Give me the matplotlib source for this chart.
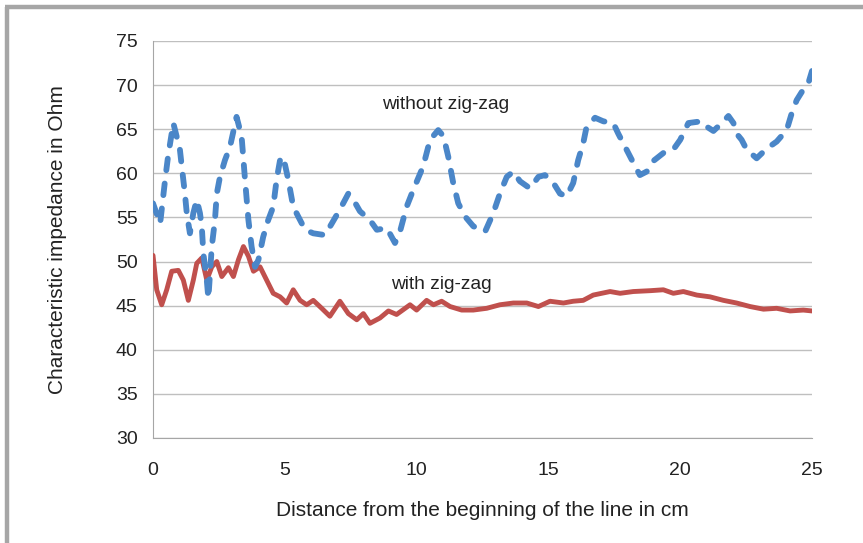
import matplotlib
matplotlib.use("Agg")
from matplotlib import pyplot as plt
from matplotlib.lines import Line2D

plt.rcParams["font.family"] = ["Liberation Sans", "DejaVu Sans"]

# impedance without zig-zag (blue, dashed)
dist_blue = [0.0, 0.27, 0.46, 0.57, 0.77, 1.02, 1.09, 1.21, 1.28, 1.40, 1.53, 1.66,
             1.78, 1.85, 1.91, 2.04, 2.10, 2.23, 2.35, 2.42, 2.54, 2.73, 2.92, 3.17,
             3.36, 3.49, 3.62, 3.74, 3.87, 4.00, 4.18, 4.37, 4.56, 4.69, 4.82, 4.94,
             5.13, 5.32, 5.51, 5.77, 6.08, 6.52, 6.78, 7.09, 7.41, 7.60, 7.85, 8.23,
             8.49, 8.87, 9.18, 9.37, 9.62, 9.87, 10.25, 10.51, 10.82, 11.02, 11.20,
             11.39, 11.58, 11.84, 12.15, 12.60, 12.91, 13.16, 13.42, 13.67, 13.92,
             14.30, 14.62, 14.87, 15.19, 15.44, 15.69, 15.94, 16.13, 16.32, 16.45,
             16.77, 17.08, 17.46, 17.65, 17.91, 18.10, 18.29, 18.47, 18.73, 18.98,
             19.36, 19.74, 20.00, 20.31, 20.81, 21.00, 21.26, 21.51, 21.83, 22.02,
             22.14, 22.33, 22.52, 22.90, 23.28, 23.66, 24.04, 24.23, 24.42, 24.67,
             24.86, 25.0]
imp_blue = [56.6, 54.3, 59.3, 61.9, 65.7, 62.7, 60.8, 57.7, 55.5, 53.2, 55.5, 57.0,
            55.5, 54.0, 50.9, 47.9, 45.8, 51.7, 54.7, 57.7, 59.6, 61.5, 63.0, 66.4,
            64.2, 59.3, 54.7, 51.7, 49.4, 50.2, 52.8, 54.7, 56.2, 59.3, 61.5, 61.9,
            59.3, 56.2, 55.1, 53.6, 53.2, 53.0, 54.3, 55.9, 57.7, 57.0, 55.7, 54.7,
            53.6, 53.8, 52.1, 53.4, 56.2, 58.1, 60.8, 63.8, 64.9, 64.2, 61.9,
            58.9, 56.6, 55.1, 54.0, 53.4, 55.5, 57.7, 59.6, 60.2, 59.1,
            58.3, 59.6, 59.8, 58.9, 57.7, 57.4, 58.9, 61.5, 63.4, 65.3,
            66.3, 65.9, 65.7, 64.5, 63.0, 61.9, 60.8, 59.8, 60.2, 61.4,
            62.3, 62.7, 63.8, 65.7, 65.9, 65.3, 64.8, 65.5, 66.5, 65.7,
            64.5, 63.8, 62.7, 61.7, 62.8, 63.6, 64.9, 66.8, 68.3, 69.5,
            70.2, 71.6]

# impedance with zig-zag (red, solid)
dist_red = [0.0, 0.14, 0.33, 0.52, 0.71, 0.96, 1.15, 1.34, 1.53, 1.66, 1.85, 2.04,
            2.23, 2.42, 2.61, 2.86, 3.05, 3.24, 3.43, 3.62, 3.81, 4.06, 4.31, 4.56,
            4.82, 5.07, 5.32, 5.58, 5.83, 6.08, 6.40, 6.71, 7.09, 7.41, 7.73, 7.98,
            8.23, 8.61, 8.93, 9.24, 9.75, 10.0, 10.38, 10.64, 10.95, 11.27, 11.71,
            12.15, 12.66, 13.16, 13.67, 14.18, 14.62, 15.06, 15.57, 15.94, 16.32,
            16.70, 17.34, 17.72, 18.22, 18.88, 19.36, 19.74, 20.12, 20.63, 21.13,
            21.64, 22.14, 22.65, 23.16, 23.66, 24.17, 24.67, 25.0]
imp_red = [50.7, 46.8, 45.1, 46.8, 48.9, 49.0, 47.9, 45.6, 47.9, 49.8, 50.4, 47.9,
           49.4, 50.0, 48.3, 49.3, 48.3, 50.2, 51.7, 50.6, 48.9, 49.4, 47.9, 46.4,
           46.0, 45.3, 46.8, 45.6, 45.1, 45.6, 44.7, 43.8, 45.5, 44.1, 43.4, 44.1,
           43.0, 43.6, 44.4, 44.0, 45.1, 44.5, 45.6, 45.1, 45.5, 44.9, 44.5,
           44.5, 44.7, 45.1, 45.3, 45.3, 44.9, 45.5, 45.3, 45.5, 45.6,
           46.2, 46.6, 46.4, 46.6, 46.7, 46.8, 46.4, 46.6, 46.2, 46.0,
           45.6, 45.3, 44.9, 44.6, 44.7, 44.4, 44.5, 44.4]

x_ticks = [0, 5, 10, 15, 20, 25]
y_ticks = [30, 35, 40, 45, 50, 55, 60, 65, 70, 75]

fig = plt.figure(figsize=(8.63, 5.43), dpi=100)
ax = fig.add_axes([0.1773, 0.1934, 0.7636, 0.7311])

# grey frame on the left and top of the picture
fig.add_artist(Line2D([0.0081, 0.0081], [0.0, 0.9871], transform=fig.transFigure,
                      color="#a6a6a6", lw=3.2, solid_capstyle="butt"))
fig.add_artist(Line2D([0.0058, 1.0], [0.9871, 0.9871], transform=fig.transFigure,
                      color="#a6a6a6", lw=3.2, solid_capstyle="butt"))

ax.plot(dist_red, imp_red, color="#c0504d", lw=3.5, solid_joinstyle="round",
        solid_capstyle="round", zorder=3)
ax.plot(dist_blue, imp_blue, color="#4a86c8", lw=4.2, dashes=(2.0, 2.3),
        dash_capstyle="round", dash_joinstyle="round", zorder=4)

ax.set_xlim(0, 25)
ax.set_ylim(30, 75)
ax.set_xticks(x_ticks)
ax.set_xticks([0, 25], minor=True)
ax.set_yticks(y_ticks)
ax.grid(axis="y", color="#bfbfbf", lw=1.0)
ax.set_axisbelow(True)

for s in ["top", "right"]:
    ax.spines[s].set_visible(False)
ax.spines["left"].set_color("#a6a6a6")
ax.spines["bottom"].set_color("#a6a6a6")
ax.tick_params(axis="y", length=0, labelsize=14, pad=11, colors="#222222")
ax.tick_params(axis="x", length=0, labelsize=14, pad=17, colors="#222222")
ax.tick_params(axis="x", which="minor", direction="in", length=6, width=1,
               color="#a6a6a6")

ax.set_xlabel("Distance from the beginning of the line in cm", fontsize=15,
              color="#222222", labelpad=16)
ax.set_ylabel("Characteristic impedance in Ohm", fontsize=15,
              color="#222222", labelpad=35)

ax.text(11.1, 67.8, "without zig-zag", fontsize=13.8, ha="center", va="center",
        color="#222222")
ax.text(10.95, 47.4, "with zig-zag", fontsize=13.8, ha="center", va="center",
        color="#222222")

fig.savefig("out.png", dpi=100)
